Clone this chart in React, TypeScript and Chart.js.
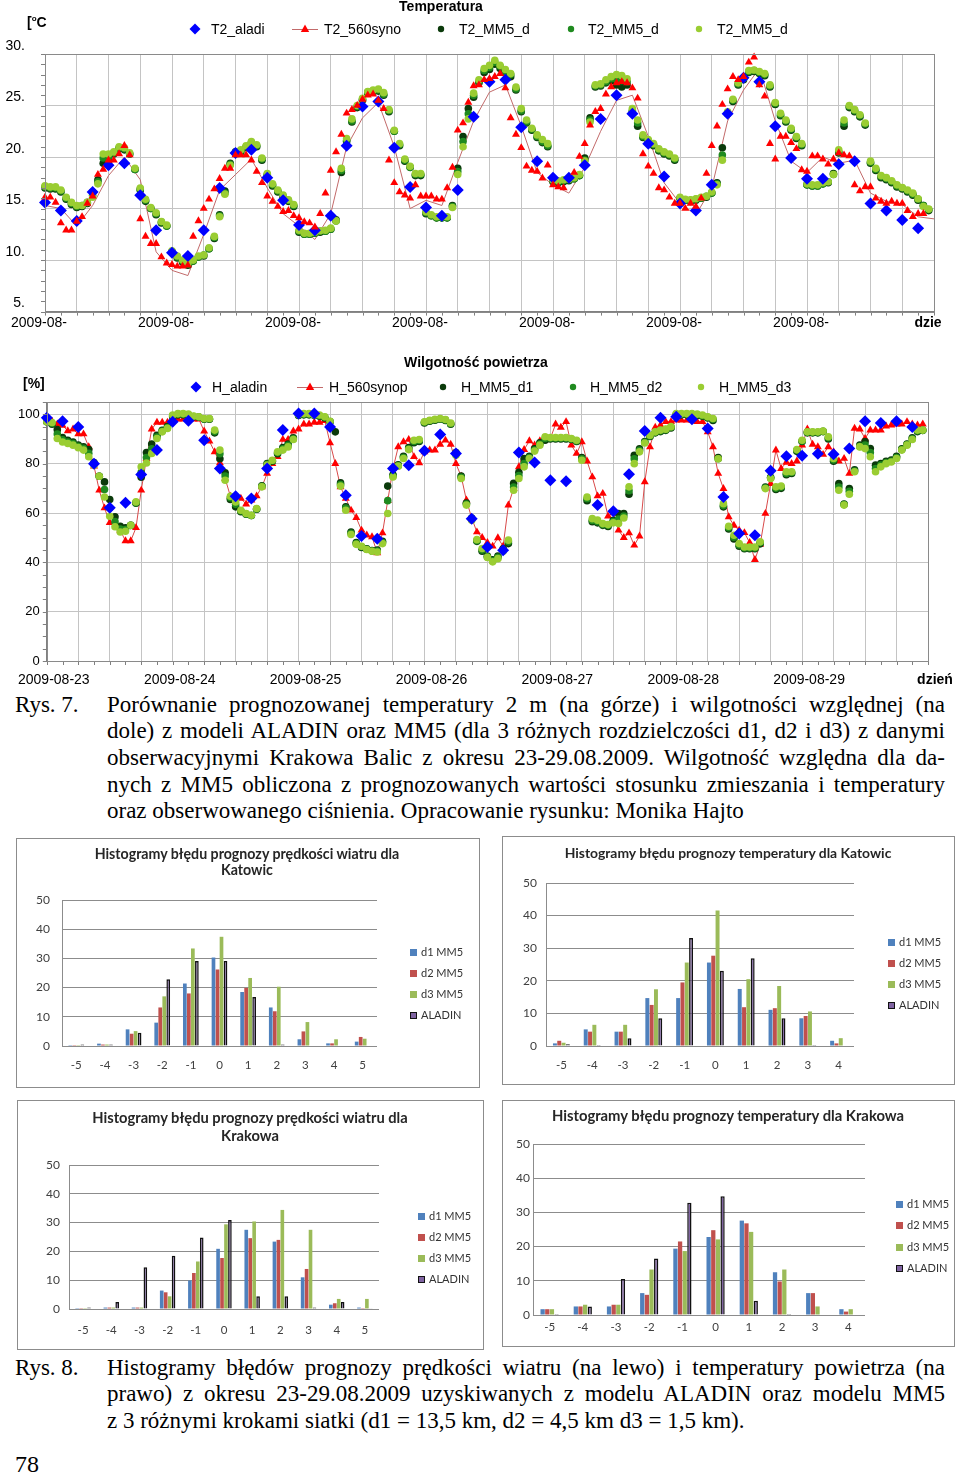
import React, { useEffect, useRef } from 'react';
import { Chart, registerables } from 'chart.js';
Chart.register(...registerables);

const SANS = '"Liberation Sans", Arial, sans-serif';
const SERIF = '"Liberation Serif", "Times New Roman", serif';
const CAL = 'Lato, "Open Sans", sans-serif';

// ---------------- Temperature (hourly index 0..167 from 2009-08-23 00h) ----------------
const T_OBS = [
  16.1, 16.1, 15.6, 13.6, 12.9, 12.9, 13.75, 14.2, 15.5, 16.2,
  18.3, 18.8, 19.7, 19.7, 20.3, 21.1, 20.2, null, 14.0, 12.3,
  11.6, 11.6, 10.3, 9.7, 9.55, 9.4, 9.4, 9.5, 12.3, 13.8,
  15.0, 15.9, 16.9, 17.9, 18.9, 18.9, 20.2, 20.2, 20.2, 19.7,
  18.6, 17.5, 16.2, 15.7, 15.2, 14.7, 14.8, 14.3, 14.1, 13.7,
  13.6, 13.2, 14.5, 16.5, 18.7, 20.5, 22.2, 24.25, 24.6, 25.0,
  25.6, 26.0, 26.1, 25.5, 24.7, 19.7, 17.5, 16.6, 16.3, 16.0,
  17.3, 16.2, 16.2, 16.2, 15.9, 15.9, 17.0, 19.0, 22.6, 23.3,
  25.3, 26.9, 27.0, 27.5, 27.6, 27.8, 28.1, 26.7, 23.8, 22.2,
  20.9, 19.1, 18.7, 18.6, 17.95, 19.2, 17.3, 17.1, 17.0, null,
  18.5, 20.05, 21.3, 23.1, 24.4, 24.7, 26.1, 26.8, 27.2, 27.3,
  27.2, 26.7, 25.7, 20.3, 19.1, 18.4, 17.0, 16.8, 16.1, 15.5,
  15.5, 15.0, 15.5, 15.2, 16.0, 18.4, 21.1, 23.0, 25.1, 26.6,
  27.8, 27.5, 27.8, 29.2, 29.7, 27.0, 25.9, 21.3, 19.8, 22.0,
  22.0, 21.4, 20.8, 18.75, 18.6, 20.1, 20.1, 19.8, 19.3, 19.8,
  20.4, 20.2, 20.1, 17.3, 16.7, 17.1, 17.1, 16.0, 15.7, 15.5,
  15.7, 15.5, 15.5, 14.8, 14.2, 14.5, 14.5, null,
];

// thin synop line, every 3 hours (0..168)
const T_SYNOP_LINE = [
  15.3, 15.0, 13.3, 15.3, 18.2, 20.0, 17.8, 10.8, 9.0, 8.5,
  12.5, 16.8, 18.3, 19.8, 17.0, 14.5, 13.3, 12.0, 14.5, 21.0,
  23.8, 25.3, 21.0, 15.0, 15.8, 15.3, 19.5, 23.5, 26.3, 27.0,
  23.0, 18.5, 17.3, 16.5, 19.0, 22.5, 25.5, 26.0, 22.0, 17.5,
  15.5, 14.4, 17.0, 23.5, 26.5, 28.6, 23.5, 19.6, 18.5, 20.0,
  19.4, 19.7, 16.5, 15.7, 15.4, 14.2, 14.0,
];

// ALADIN, every 3 hours
const T_ALADIN = [
  15.6, 14.8, 13.8, 16.6, 19.2, 19.4, 16.3, 12.9, 10.7, 10.4,
  12.9, 17.0, 20.4, 20.7, 18.0, 15.8, 13.4, 12.9, 14.3, 21.1,
  24.9, 25.4, 20.9, 17.1, 15.1, 14.3, 16.8, 23.9, 27.3, 27.5,
  22.9, 19.6, 18.0, 18.0, 19.2, 23.7, 26.0, 24.2, 21.3, 18.1,
  15.5, 14.8, 17.3, 24.2, 27.7, 27.3, 23.0, 19.9, 17.9, 17.9,
  19.3, 19.6, 15.5, 14.8, 13.9, 13.1,
];

const T_D1 = [
  17.0, 16.9, 16.9, 16.6, 15.9, 15.4, 15.1, 15.2, 15.5, 16.6,
  17.8, 19.4, 19.6, 20.3, 20.8, 20.7, 20.3, 18.8, 16.8, 15.7,
  15.0, 14.4, 13.6, 13.3, 10.8, 10.2, 9.8, 9.5, 9.9, 10.3,
  10.4, 11.1, 12.1, 14.4, 16.7, 19.4, 20.5, 20.5, 20.9, 21.3,
  21.0, 19.7, 18.2, 17.2, 16.6, 16.1, 15.7, 15.2, 12.7, 12.5,
  12.5, 12.6, 12.7, 12.8, 13.0, 13.9, 18.5, 21.5, 23.4, 24.8,
  25.5, 26.2, 26.3, 26.4, 26.0, 24.4, 22.5, 21.1, 19.6, 19.0,
  18.2, 18.2, 14.5, 14.3, 14.1, 14.1, 14.1, 15.3, 18.9, 22.0,
  24.7, 25.8, 27.2, 28.2, 28.5, 29.0, 28.6, 28.2, 27.8, 26.5,
  24.4, 23.3, 22.6, 21.9, 21.4, 21.0, 17.6, 17.5, 17.6, 17.7,
  17.9, 18.2, 19.9, 23.8, 26.8, 26.9, 27.2, 27.4, 27.0, 26.8,
  27.0, 24.4, 23.0, 21.9, 21.5, 21.1, 20.6, 20.3, 20.1, 19.7,
  16.0, 15.8, 15.7, 15.8, 16.0, 16.1, 16.5, 17.5, 20.9, 24.2,
  25.4, 27.0, 27.5, 28.2, 28.3, 28.1, 27.9, 26.8, 25.1, 24.0,
  23.4, 22.6, 21.8, 21.1, 17.3, 17.2, 17.2, 17.4, 17.5, 18.4,
  20.4, 23.0, 24.8, 24.4, 23.9, 23.1, 19.4, 18.7, 18.0, 17.8,
  17.5, 17.1, 16.9, 16.6, 16.3, 15.8, 15.3, 14.8,
];

const T_D2 = [
  17.1, 17.0, 17.0, 16.7, 16.0, 15.5, 15.2, 15.3, 15.6, 16.3,
  17.6, 19.9, 20.0, 20.4, 20.9, 20.8, 20.3, 18.8, 16.9, 15.8,
  15.0, 14.5, 13.7, 13.3, 10.8, 10.3, 9.9, 9.6, 9.9, 10.3,
  10.5, 11.1, 12.2, 14.3, 16.5, 19.3, 20.4, 20.6, 21.0, 21.4,
  21.1, 19.8, 18.3, 17.3, 16.7, 16.2, 15.8, 15.3, 12.8, 12.5,
  12.5, 12.6, 12.8, 12.8, 13.0, 13.8, 18.7, 21.6, 23.5, 24.9,
  25.6, 26.3, 26.4, 26.5, 26.1, 24.5, 22.5, 21.2, 19.7, 19.0,
  18.3, 18.3, 14.6, 14.3, 14.1, 14.1, 14.1, 15.2, 18.6, 21.5,
  24.2, 26.0, 27.3, 28.4, 28.7, 29.2, 28.8, 28.3, 28.0, 26.6,
  24.5, 23.4, 22.7, 22.0, 21.5, 21.1, 17.7, 17.6, 17.7, 17.8,
  17.9, 18.2, 19.7, 23.6, 26.9, 27.0, 27.3, 27.6, 27.5, 27.4,
  27.3, 24.5, 23.3, 22.0, 21.6, 21.2, 20.7, 20.4, 20.2, 19.8,
  16.0, 15.8, 15.8, 15.9, 16.0, 16.2, 16.5, 17.4, 20.2, 24.3,
  25.5, 27.1, 27.6, 28.3, 28.4, 28.2, 28.0, 26.9, 25.2, 24.1,
  23.5, 22.7, 21.9, 21.2, 17.3, 17.2, 17.2, 17.4, 17.6, 18.3,
  20.5, 23.3, 24.9, 24.5, 24.0, 23.2, 19.5, 18.8, 18.1, 17.9,
  17.6, 17.2, 17.0, 16.7, 16.4, 15.9, 15.3, 14.9,
];

const T_D3 = [
  17.2, 17.1, 17.1, 16.8, 16.1, 15.6, 15.3, 15.3, 15.6, 16.1,
  17.4, 20.3, 20.3, 20.5, 21.0, 20.9, 20.4, 18.9, 17.0, 15.9,
  15.1, 14.6, 13.75, 13.4, 10.9, 10.4, 10.0, 9.7, 10.0, 10.4,
  10.5, 11.2, 12.3, 14.2, 16.4, 19.2, 20.3, 20.7, 21.1, 21.5,
  21.2, 19.9, 18.4, 17.4, 16.8, 16.3, 15.85, 15.4, 12.9, 12.6,
  12.6, 12.7, 12.85, 12.9, 13.1, 13.8, 18.9, 21.8, 23.7, 25.0,
  25.7, 26.35, 26.5, 26.6, 26.25, 24.6, 22.6, 21.3, 19.8, 19.1,
  18.4, 18.4, 14.7, 14.4, 14.2, 14.2, 14.2, 15.1, 18.3, 21.0,
  23.7, 26.2, 27.5, 28.6, 28.9, 29.4, 28.9, 28.5, 28.1, 26.8,
  24.7, 23.6, 22.8, 22.15, 21.7, 21.3, 17.8, 17.7, 17.8, 17.85,
  18.0, 18.3, 19.6, 23.4, 27.0, 27.1, 27.5, 27.8, 28.0, 27.9,
  27.6, 24.7, 23.6, 22.15, 21.7, 21.3, 20.8, 20.5, 20.3, 19.9,
  16.1, 15.9, 15.85, 15.95, 16.1, 16.2, 16.6, 17.3, 19.7, 24.4,
  25.6, 27.2, 27.7, 28.4, 28.45, 28.3, 28.1, 27.0, 25.3, 24.25,
  23.6, 22.8, 22.0, 21.3, 17.4, 17.3, 17.3, 17.5, 17.6, 18.3,
  20.7, 23.6, 25.0, 24.6, 24.1, 23.3, 19.6, 18.9, 18.2, 18.0,
  17.7, 17.3, 17.05, 16.8, 16.5, 15.95, 15.2, 14.95,
];

// ---------------- Relative humidity ----------------
const H_OBS = [
  97.5, 97.2, 96.0, 95.5, 93.3, 94.0, 92.0, 92.0, 86.8, 79.0,
  69.2, 62.0, 56.1, 56.1, 53.0, 48.7, 48.7, 54.0, 69.2, 82.0,
  94.0, 96.7, 96.7, 96.7, 98.0, 98.0, 98.0, 98.0, 98.0, 98.0,
  93.2, 89.1, 84.8, 80.3, 74.0, 66.8, 66.1, 65.9, 63.6, 65.2,
  66.9, 70.6, 76.0, 80.0, 82.8, 89.8, 89.8, 93.2, 94.0, 96.0,
  96.0, 96.7, 96.7, 97.4, 88.4, 80.0, 70.6, 65.9, 61.1, 58.1,
  53.0, 51.0, 50.3, 43.8, 51.9, 65.0, 78.0, 86.8, 88.8, 89.8,
  82.8, 80.3, 84.8, 85.5, 85.5, 87.8, 89.5, 87.8, 80.0, 74.9,
  65.2, 58.0, 52.3, 50.0, 48.0, 46.5, 49.9, 46.5, 63.2, 70.0,
  78.7, 85.7, 89.2, 87.5, 89.2, 89.8, 90.2, 96.0, 94.7, 97.0,
  87.5, 84.1, 88.8, 81.0, 74.6, 66.9, 67.9, 58.7, 60.0, 53.0,
  50.0, 51.9, 46.9, 50.6, 72.6, 86.8, 94.7, 95.6, 97.0, 97.0,
  97.6, 97.6, 97.6, 97.6, 97.0, 97.0, 92.9, 86.8, 76.0, 69.9,
  58.4, 55.0, 53.0, 52.0, 48.0, 41.1, 47.2, 59.8, 71.9, 85.5,
  78.0, 80.5, 80.0, 81.0, 87.5, 94.0, 87.8, 86.8, 83.7, 86.8,
  84.8, 81.0, 82.1, 76.0, 94.3, 94.0, 90.2, 93.6, 93.6, 93.6,
  95.2, 95.6, 96.0, 96.0, 97.0, 96.0, 95.6, 96.0,
];

const H_ALADIN = [
  98.6, 97.2, 94.9, 80.0, 62.1, 64.2, 75.6, 85.5, 97.0, 97.4,
  89.5, 78.0, 66.8, 65.9, 78.0, 93.6, 100.3, 100.3, 94.9, 67.2,
  50.7, 49.6, 78.0, 79.4, 85.2, 91.8, 84.1, 57.7, 46.2, 44.9,
  84.5, 80.5, 73.3, 72.9, null, 63.2, 60.7, 75.7, 93.2, 98.6,
  99.0, 98.0, 94.3, 66.5, 51.7, 51.0, 77.1, 83.0, 83.2, 84.0,
  83.8, 86.1, 97.2, 96.5, 97.2, 94.9,
];

const H_D1 = [
  97.0, 96.0, 93.8, 90.6, 89.5, 88.8, 87.5, 86.8, 85.7, 80.5,
  74.9, 72.6, 65.5, 58.5, 54.6, 54.0, 55.0, 64.0, 74.5, 84.5,
  88.0, 91.5, 93.5, 95.0, 99.0, 99.8, 99.8, 99.6, 99.0, 98.8,
  98.0, 98.0, 92.5, 82.0, 76.3, 65.5, 62.5, 60.5, 59.5, 59.0,
  61.5, 71.0, 80.0, 81.0, 84.0, 86.5, 88.0, 90.5, 99.5, 99.8,
  99.8, 99.5, 99.2, 98.5, 97.0, 92.9, 72.2, 62.5, 52.3, 48.0,
  46.0, 45.5, 44.8, 45.0, 48.5, 70.9, 75.5, 79.5, 83.0, 86.5,
  88.5, 89.0, 96.5, 97.2, 97.6, 98.0, 97.5, 96.0, 84.5, 75.0,
  64.0, 58.0, 48.5, 44.5, 42.5, 41.0, 42.5, 45.5, 47.6, 72.0,
  76.5, 82.1, 83.0, 86.0, 88.5, 89.5, 90.0, 90.0, 90.0, 90.0,
  89.8, 89.0, 82.5, 65.0, 56.5, 56.0, 55.0, 54.5, 57.0, 59.8,
  59.8, 67.6, 83.4, 86.0, 89.0, 91.0, 92.5, 93.0, 93.5, 94.5,
  99.8, 99.8, 99.8, 99.6, 99.5, 99.2, 98.5, 97.5, 82.5, 62.5,
  53.5, 49.5, 46.5, 45.5, 45.5, 45.5, 47.5, 70.5, 74.5, 69.5,
  70.0, 75.5, 76.0, 85.0, 89.0, 92.5, 92.5, 92.5, 93.0, 90.0,
  81.0, 71.9, 63.6, 69.9, 77.5, 87.5, 89.0, 86.1, 79.4, 80.0,
  81.0, 81.5, 83.0, 86.0, 88.0, 90.5, 93.0, 93.5,
];

const H_D2 = [
  97.0, 96.3, 92.0, 89.7, 88.8, 88.2, 87.0, 86.2, 84.2, 80.0,
  74.9, 69.5, 62.0, 56.5, 53.5, 53.3, 55.0, 64.2, 76.5, 82.5,
  86.0, 90.8, 93.2, 94.6, 99.4, 100.0, 100.0, 99.8, 99.1, 98.9,
  98.1, 98.1, 93.0, 84.0, 75.0, 66.2, 63.5, 60.8, 59.6, 59.0,
  61.6, 70.8, 79.7, 81.2, 84.4, 86.0, 87.4, 90.1, 99.7, 100.0,
  100.0, 99.6, 99.4, 98.8, 97.1, null, 71.5, 62.0, 51.8, 47.6,
  46.3, 45.3, 44.6, 44.6, 48.0, 65.0, 75.0, 79.2, 82.5, 86.0,
  89.0, 89.4, 96.8, 97.4, 97.8, 98.1, 97.7, 96.2, 84.0, 74.5,
  63.6, 57.5, 48.8, 45.0, 42.2, 40.6, 42.0, 45.0, 48.3, 70.5,
  75.2, 80.0, 82.5, 85.5, 88.0, 90.2, 90.3, 90.3, 90.3, 90.3,
  90.0, 89.2, 82.0, 65.8, 57.0, 56.5, 55.3, 55.0, 56.5, 57.5,
  58.8, 69.0, 82.0, 85.4, 88.7, 91.2, 92.7, 93.3, 93.8, 94.8,
  100.0, 100.0, 100.0, 100.0, 99.8, 99.4, 98.8, 98.0, 82.0, 63.0,
  54.0, 50.2, 47.0, 45.8, 45.8, 45.8, 48.0, 70.2, 74.2, 70.0,
  70.5, 76.0, 76.4, 85.4, 89.2, 92.7, 92.7, 92.7, 93.1, 90.5,
  81.5, 70.5, 63.4, 68.8, 77.0, 87.0, 87.5, 84.5, 78.0, 79.4,
  80.5, 81.0, 82.5, 85.7, 87.8, 90.1, 93.3, 93.5,
];

const H_D3 = [
  97.0, 96.7, 90.2, 88.8, 88.2, 87.5, 86.5, 85.5, 82.8, 79.4,
  74.9, 66.5, 58.7, 54.4, 52.3, 52.6, 55.0, 64.5, 78.7, 80.3,
  84.1, 90.2, 92.9, 94.3, 99.7, 100.3, 100.3, 100.1, 99.3, 99.0,
  98.3, 98.3, 93.6, 85.5, 73.3, 66.8, 64.5, 61.1, 59.8, 59.1,
  61.8, 70.6, 79.4, 81.4, 84.8, 85.5, 86.8, 89.8, 99.9, 100.3,
  100.3, 99.7, 99.7, 99.0, 97.2, null, 70.9, 61.1, 51.3, 47.3,
  46.5, 45.2, 44.5, 44.2, 47.6, 59.8, 74.6, 79.0, 82.1, 85.7,
  89.5, 89.8, 97.0, 97.6, 98.0, 98.3, 97.9, 96.5, 83.4, 74.0,
  63.2, 57.1, 49.2, 45.6, 42.0, 40.2, 41.5, 44.5, 49.0, 69.2,
  74.0, 78.7, 82.1, 85.1, 87.5, 90.9, 90.6, 90.6, 90.6, 90.6,
  90.2, 89.5, 81.4, 66.5, 57.7, 57.1, 55.7, 55.3, 56.0, 55.7,
  58.0, 70.6, 80.0, 84.8, 88.4, 91.5, 92.9, 93.6, 94.0, 95.0,
  100.3, 100.3, 100.3, 100.3, 100.1, 99.7, 99.0, 98.3, 82.0, 63.8,
  54.6, 51.0, 47.6, 46.2, 46.2, 46.2, 48.3, 69.9, 74.0, 70.6,
  70.9, 76.7, 76.7, 85.7, 89.5, 92.9, 92.9, 92.9, 93.2, 90.9,
  82.1, 69.2, 63.2, 67.6, 76.7, 86.8, 86.1, 82.8, 76.7, 78.7,
  80.0, 80.7, 82.1, 85.5, 87.5, 89.8, 93.6, 93.6,
];

// ---------------- Histograms ----------------
const WIND_BINS = ['-5', '-4', '-3', '-2', '-1', '0', '1', '2', '3', '4', '5'];
const TEMP_BINS = ['-5', '-4', '-3', '-2', '-1', '0', '1', '2', '3', '4'];
const SERIES_NAMES = ['d1 MM5', 'd2 MM5', 'd3 MM5', 'ALADIN'];

const KAT_WIND_D1 = [0.3, 0.8, 5.7, 8.0, 21.4, 30.3, 18.5, 13.2, 2.3, 0.9, 1.5];
const KAT_WIND_D2 = [0.3, 0.5, 4.2, 13.2, 18.0, 26.2, 19.9, 11.9, 5.0, 0.9, 3.1];
const KAT_WIND_D3 = [0.3, 0.5, 5.1, 17.0, 33.4, 37.4, 23.3, 20.3, 8.2, 2.3, 2.5];
const KAT_WIND_AL = [0.5, 0.5, 4.5, 22.9, 29.1, 29.1, 16.8, 0.5, 0, 0, 0];

const KAT_TEMP_D1 = [0.8, 5.1, 4.4, 14.7, 14.7, 25.6, 17.5, 11.1, 8.5, 1.6];
const KAT_TEMP_D2 = [1.6, 4.4, 4.4, 12.6, 19.5, 27.7, 11.9, 11.6, 9.2, 0.8];
const KAT_TEMP_D3 = [1.0, 6.5, 6.5, 17.4, 25.6, 41.6, 20.5, 18.4, 10.6, 2.4];
const KAT_TEMP_AL = [0.5, 0.3, 2.4, 8.5, 33.1, 23.1, 26.9, 8.5, 0.3, 0];

const KRK_WIND_D1 = [0.3, 0.5, 0.5, 6.4, 9.9, 20.9, 27.5, 23.4, 11.0, 1.5, 0.5];
const KRK_WIND_D2 = [0.3, 0.5, 0.5, 5.8, 12.5, 17.7, 24.6, 24.0, 13.9, 2.0, 0.3];
const KRK_WIND_D3 = [0.3, 0.5, 0.5, 4.4, 16.5, 29.4, 30.4, 34.4, 27.5, 3.5, 3.5];
const KRK_WIND_AL = [0.5, 2.4, 14.5, 18.5, 24.8, 30.9, 4.4, 4.4, 0.5, 2.4, 0.3];

const KRK_TEMP_D1 = [1.7, 2.5, 2.5, 6.4, 19.4, 22.8, 27.6, 12.5, 6.4, 1.7];
const KRK_TEMP_D2 = [1.7, 2.5, 3.0, 5.9, 21.5, 24.8, 26.8, 9.8, 6.4, 1.0];
const KRK_TEMP_D3 = [1.7, 3.0, 3.0, 13.3, 18.7, 22.1, 24.3, 13.3, 2.5, 1.7];
const KRK_TEMP_AL = [0.3, 2.5, 10.5, 16.5, 32.8, 34.7, 4.2, 0.3, 0, 0];

// ---------------- colours ----------------
const C_BLUE = '#0000ff';
const C_RED = '#ff0000';
const C_D1 = '#0b3a0b';
const C_D2 = '#1f8a1f';
const C_D3 = '#9acd32';
const H_COLORS = ['#4f81bd', '#c0504d', '#9bbb59', '#8064a2'];

const hourly = (vals: (number | null)[]) => vals.map((v, i) => ({ x: i, y: v }));
const threeHourly = (vals: (number | null)[]) => vals.map((v, k) => ({ x: 3 * k, y: v }));

const frame = {
  id: 'frame',
  afterDraw(chart: any, _a: any, o: any) {
    if (!o || !o.enabled) return;
    const { ctx, chartArea: ca, scales } = chart;
    ctx.save();
    ctx.lineWidth = 1;
    ctx.strokeStyle = o.tickColor;
    const xs = scales.x;
    for (let v = xs.min; v <= xs.max + 1e-6; v += o.xStep) {
      const px = Math.round(xs.getPixelForValue(v)) + 0.5;
      ctx.beginPath();
      ctx.moveTo(px, ca.bottom);
      ctx.lineTo(px, ca.bottom + o.xLen);
      ctx.stroke();
    }
    const ys = scales.y;
    for (let v = ys.min; v <= ys.max + 1e-6; v += o.yStep) {
      const py = Math.round(ys.getPixelForValue(v)) + 0.5;
      ctx.beginPath();
      ctx.moveTo(ca.left - o.yLen, py);
      ctx.lineTo(ca.left, py);
      ctx.stroke();
    }
    ctx.strokeStyle = o.borderColor;
    ctx.strokeRect(Math.round(ca.left) + 0.5, Math.round(ca.top) + 0.5, Math.round(ca.width), Math.round(ca.height));
    ctx.restore();
  },
};

function ChartCanvas({ left, top, width, height, make }: any) {
  const ref = useRef<HTMLCanvasElement>(null);
  useEffect(() => {
    const chart = new Chart(ref.current as HTMLCanvasElement, make());
    return () => chart.destroy();
  }, []);
  return (
    <canvas
      ref={ref}
      width={width}
      height={height}
      style={{ position: 'absolute', left, top, width, height }}
    />
  );
}

function pts(data: any, color: string, style: string, radius: number, order: number, label: string) {
  return {
    label,
    data,
    pointStyle: style,
    pointRadius: radius,
    pointBackgroundColor: color,
    pointBorderColor: color,
    pointBorderWidth: 0,
    backgroundColor: color,
    borderColor: color,
    showLine: false,
    order,
    clip: false,
  };
}

function seriesConfig(p: any) {
  return {
    type: 'scatter',
    data: {
      datasets: [
        {
          label: p.lineLabel,
          data: p.line,
          showLine: true,
          borderColor: p.lineColor,
          borderWidth: 1,
          pointRadius: p.lineRadius,
          pointStyle: 'triangle',
          pointBackgroundColor: C_RED,
          pointBorderColor: C_RED,
          pointBorderWidth: 0,
          spanGaps: true,
          order: 6,
          clip: false,
        },
        pts(p.d1, C_D1, 'circle', 3.8, 5, p.names[2]),
        pts(p.d2, C_D2, 'circle', 3.8, 4, p.names[3]),
        pts(p.d3, C_D3, 'circle', 3.8, 3, p.names[4]),
        pts(p.aladin, C_BLUE, 'rectRot', 6, 2, p.names[0]),
        ...(p.obs ? [pts(p.obs, C_RED, 'triangle', 4.6, 1, p.names[1])] : []),
      ],
    },
    options: {
      responsive: false,
      animation: false,
      devicePixelRatio: 1,
      events: [],
      layout: { padding: { left: 0, right: p.padRight, top: p.padTop, bottom: 0 } },
      plugins: {
        legend: { display: false },
        tooltip: { enabled: false },
        frame: { enabled: true, xStep: 3, xLen: 4, yStep: p.yMinor, yLen: 4, tickColor: '#808080', borderColor: '#8a8a8a' },
      },
      scales: {
        x: {
          type: 'linear',
          min: 0,
          max: 168,
          afterFit: (s: any) => { s.height = p.xH; },
          ticks: {
            stepSize: 6,
            maxTicksLimit: 100,
            autoSkip: false,
            maxRotation: 0,
            minRotation: 0,
            padding: p.xPad,
            labelOffset: p.xLabelOffset,
            color: '#000',
            font: (c: any) => ({ family: SANS, size: 14, weight: c.tick && c.tick.value === 168 ? 'bold' : 'normal' }),
            callback: p.xLabel,
          },
          grid: { color: '#c4c4c4', drawTicks: false },
          border: { color: '#808080' },
        },
        y: {
          min: p.yMin,
          max: p.yMax,
          afterFit: (s: any) => { s.width = p.yW; },
          ticks: {
            stepSize: p.yStep,
            includeBounds: false,
            padding: p.yPad,
            labelOffset: p.yLabelOffset,
            color: '#000',
            font: { family: SANS, size: p.ySize },
            callback: p.yLabel,
          },
          grid: { color: '#c4c4c4', drawTicks: false },
          border: { color: '#808080' },
        },
      },
    },
    plugins: [frame],
  };
}

const tempConfig = () =>
  seriesConfig({
    names: ['T2_aladi', 'T2_560syno', 'T2_MM5_d', 'T2_MM5_d', 'T2_MM5_d'],
    lineLabel: 'T2_560syno (linia)',
    line: threeHourly(T_SYNOP_LINE),
    lineColor: '#c26a6a',
    lineRadius: 0,
    obs: hourly(T_OBS),
    aladin: threeHourly(T_ALADIN),
    d1: hourly(T_D1),
    d2: hourly(T_D2),
    d3: hourly(T_D3),
    padRight: 26,
    padTop: 54,
    xH: 28,
    xPad: 3,
    xLabelOffset: -6,
    xLabel: (v: number) => (v === 168 ? 'dzie' : v % 24 === 0 ? '2009-08-' : ''),
    yMin: 5,
    yMax: 30,
    yStep: 5,
    yMinor: 1,
    yW: 45,
    yPad: 20,
    yLabelOffset: -8,
    ySize: 14,
    yLabel: (v: number) => v + '.',
  });

const humConfig = () =>
  seriesConfig({
    names: ['H_aladin', 'H_560synop', 'H_MM5_d1', 'H_MM5_d2', 'H_MM5_d3'],
    lineLabel: 'H_560synop',
    line: hourly(H_OBS),
    lineColor: '#d84a4a',
    lineRadius: 4.6,
    obs: null,
    aladin: threeHourly(H_ALADIN),
    d1: hourly(H_D1),
    d2: hourly(H_D2),
    d3: hourly(H_D3),
    padRight: 32,
    padTop: 52,
    xH: 29,
    xPad: 11,
    xLabelOffset: 7,
    xLabel: (v: number) =>
      v === 168 ? 'dzień' : v % 24 === 0 ? '2009-08-' + String(23 + v / 24) : '',
    yMin: 0,
    yMax: 105,
    yStep: 20,
    yMinor: 5,
    yW: 35,
    yPad: 7,
    yLabelOffset: 0,
    ySize: 13,
    yLabel: (v: number) => String(v),
  });

// ---------------- small HTML helpers ----------------
function T({ x, y, children, size = 14, bold = false, center = false, family = SANS, color = '#000' }: any) {
  return (
    <div
      style={{
        position: 'absolute',
        left: x,
        top: y,
        transform: center ? 'translate(-50%, -50%)' : 'translateY(-50%)',
        fontFamily: family,
        fontSize: size,
        fontWeight: bold ? 'bold' : 'normal',
        color,
        whiteSpace: 'nowrap',
        lineHeight: 1.15,
      }}
    >
      {children}
    </div>
  );
}

function Marker({ x, y, kind, color }: any) {
  const s = 14;
  let shape: any = null;
  if (kind === 'diamond') shape = <polygon points="7,1.5 12.5,7 7,12.5 1.5,7" fill={color} />;
  if (kind === 'dot') shape = <circle cx={7} cy={7} r={3.2} fill={color} />;
  if (kind === 'tri') shape = <polygon points="7,2.5 11.2,10 2.8,10" fill={color} />;
  return (
    <svg width={s} height={s} style={{ position: 'absolute', left: x - 7, top: y - 7 }}>
      {shape}
    </svg>
  );
}

function LineTri({ x1, x2, y, color }: any) {
  const w = x2 - x1;
  return (
    <svg width={w} height={14} style={{ position: 'absolute', left: x1, top: y - 7 }}>
      <line x1={0} y1={7.5} x2={w} y2={7.5} stroke={color} strokeWidth={1} />
      <polygon points={`${w / 2},2.5 ${w / 2 + 4.2},10 ${w / 2 - 4.2},10`} fill={C_RED} />
    </svg>
  );
}

function SeriesLegend({ y, names, xs }: any) {
  return (
    <>
      <Marker x={xs[0]} y={y} kind="diamond" color={C_BLUE} />
      <T x={xs[0] + 16} y={y}>{names[0]}</T>
      <LineTri x1={xs[1] - 13} x2={xs[1] + 13} y={y} color="#c26a6a" />
      <T x={xs[1] + 19} y={y}>{names[1]}</T>
      <Marker x={xs[2]} y={y} kind="dot" color={C_D1} />
      <T x={xs[2] + 18} y={y}>{names[2]}</T>
      <Marker x={xs[3]} y={y} kind="dot" color={C_D2} />
      <T x={xs[3] + 17} y={y}>{names[3]}</T>
      <Marker x={xs[4]} y={y} kind="dot" color={C_D3} />
      <T x={xs[4] + 18} y={y}>{names[4]}</T>
    </>
  );
}

// ---------------- histogram ----------------
const HISTS = [
  {
    box: { x: 16, y: 838, w: 464, h: 250 },
    plot: { l: 62, r: 377, t: 900, b: 1046 },
    yPad: 12, xPad: 12,
    title: ['Histogramy błędu prognozy prędkości wiatru dla', 'Katowic'], tx: 247, ty: [854, 870], ts: 14.2,
    labels: WIND_BINS, data: [KAT_WIND_D1, KAT_WIND_D2, KAT_WIND_D3, KAT_WIND_AL],
    lx: 413, ly: [952, 973, 994, 1015],
  },
  {
    box: { x: 502, y: 836, w: 453, h: 249 },
    plot: { l: 546, r: 854, t: 883, b: 1046 },
    yPad: 9, xPad: 12,
    title: ['Histogramy błędu prognozy temperatury dla Katowic'], tx: 728, ty: [853], ts: 13.9,
    labels: TEMP_BINS, data: [KAT_TEMP_D1, KAT_TEMP_D2, KAT_TEMP_D3, KAT_TEMP_AL],
    lx: 891, ly: [942, 963, 984, 1005],
  },
  {
    box: { x: 17, y: 1100, w: 467, h: 250 },
    plot: { l: 69, r: 379, t: 1165, b: 1309 },
    yPad: 9, xPad: 14,
    title: ['Histogramy błędu prognozy prędkości wiatru dla', 'Krakowa'], tx: 250, ty: [1117, 1135], ts: 14.7,
    labels: WIND_BINS, data: [KRK_WIND_D1, KRK_WIND_D2, KRK_WIND_D3, KRK_WIND_AL],
    lx: 421, ly: [1216, 1237, 1258, 1279],
  },
  {
    box: { x: 502, y: 1100, w: 453, h: 247 },
    plot: { l: 533, r: 865, t: 1144, b: 1315 },
    yPad: 3, xPad: 5,
    title: ['Histogramy błędu prognozy temperatury dla Krakowa'], tx: 728, ty: [1116], ts: 14.8,
    labels: TEMP_BINS, data: [KRK_TEMP_D1, KRK_TEMP_D2, KRK_TEMP_D3, KRK_TEMP_AL],
    lx: 899, ly: [1204, 1225, 1247, 1268],
  },
];

function histConfig(h: any) {
  const { box, plot } = h;
  return () => ({
    type: 'bar',
    data: {
      labels: h.labels,
      datasets: h.data.map((d: number[], i: number) => ({
        label: SERIES_NAMES[i],
        data: d,
        backgroundColor: H_COLORS[i],
        borderColor: i === 3 ? '#111' : H_COLORS[i],
        borderWidth: i === 3 ? 1.5 : 0,
        categoryPercentage: 0.56,
        barPercentage: 0.92,
      })),
    },
    options: {
      responsive: false,
      animation: false,
      devicePixelRatio: 1,
      events: [],
      layout: {
        padding: { left: 0, top: plot.t - box.y, right: box.x + box.w - plot.r, bottom: 0 },
      },
      plugins: { legend: { display: false }, tooltip: { enabled: false } },
      scales: {
        x: {
          afterFit: (s: any) => { s.height = box.y + box.h - plot.b; },
          grid: { display: false, drawTicks: false },
          border: { display: false },
          ticks: { padding: h.xPad, color: '#404040', font: { family: CAL, size: 11.5 }, maxRotation: 0 },
        },
        y: {
          min: 0,
          max: 50,
          afterFit: (s: any) => { s.width = plot.l - box.x; },
          ticks: { stepSize: 10, padding: h.yPad, color: '#404040', font: { family: CAL, size: 12 } },
          grid: { color: '#8c8c8c', drawTicks: false },
          border: { color: '#8c8c8c' },
        },
      },
    },
  });
}

function Histogram({ h }: any) {
  const { box } = h;
  return (
    <>
      <ChartCanvas left={box.x} top={box.y} width={box.w} height={box.h} make={histConfig(h)} />
      <div
        style={{
          position: 'absolute',
          left: box.x,
          top: box.y,
          width: box.w,
          height: box.h,
          border: '1px solid #8c8c8c',
          boxSizing: 'border-box',
          pointerEvents: 'none',
        }}
      />
      {h.title.map((t: string, i: number) => (
        <T key={'t' + i} x={h.tx} y={h.ty[i]} size={h.ts} bold center family={CAL} color="#262626">
          {t}
        </T>
      ))}
      {SERIES_NAMES.map((n, i) => (
        <React.Fragment key={'l' + i}>
          <div
            style={{
              position: 'absolute',
              left: h.lx - 3.5,
              top: h.ly[i] - 3.5,
              width: 7,
              height: 7,
              background: H_COLORS[i],
              boxSizing: 'border-box',
              border: i === 3 ? '1.5px solid #111' : 'none',
            }}
          />
          <T x={h.lx + 8} y={h.ly[i]} size={11} family={CAL} color="#333">
            {n}
          </T>
        </React.Fragment>
      ))}
    </>
  );
}

// ---------------- captions ----------------
const CAPTION7 = [
  'Porównanie prognozowanej temperatury 2 m (na górze) i wilgotności względnej (na',
  'dole) z modeli ALADIN oraz MM5 (dla 3 różnych rozdzielczości d1, d2 i d3) z danymi',
  'obserwacyjnymi Krakowa Balic z okresu 23-29.08.2009. Wilgotność względna dla da-',
  'nych z MM5 obliczona z prognozowanych wartości stosunku zmieszania i temperatury',
  'oraz obserwowanego ciśnienia. Opracowanie rysunku: Monika Hajto',
];
const CAPTION8 = [
  'Histogramy błędów prognozy prędkości wiatru (na lewo) i temperatury powietrza (na',
  'prawo) z okresu 23-29.08.2009 uzyskiwanych z modelu ALADIN oraz modelu MM5',
  'z 3 różnymi krokami siatki (d1 = 13,5 km, d2 = 4,5 km d3 = 1,5 km).',
];

function Caption({ top, label, lines }: any) {
  const lh = 26.7;
  return (
    <>
      <div style={{ position: 'absolute', left: 15, top, fontFamily: SERIF, fontSize: 23, lineHeight: lh + 'px', whiteSpace: 'nowrap' }}>
        {label}
      </div>
      <div style={{ position: 'absolute', left: 107, top, width: 838, fontFamily: SERIF, fontSize: 23, lineHeight: lh + 'px' }}>
        {lines.map((l: string, i: number) => (
          <div
            key={i}
            style={{
              height: lh,
              whiteSpace: 'nowrap',
              textAlign: i < lines.length - 1 ? 'justify' : 'left',
              textAlignLast: i < lines.length - 1 ? 'justify' : 'left',
            } as any}
          >
            {l}
          </div>
        ))}
      </div>
    </>
  );
}

export default function App() {
  useEffect(() => {
    document.body.style.margin = '0';
  }, []);
  return (
    <div style={{ position: 'absolute', left: 0, top: 0, width: 960, height: 1480, overflow: 'hidden', background: '#fff' }}>
      {/* Temperature */}
      <ChartCanvas left={0} top={0} width={960} height={340} make={tempConfig} />
      <T x={441} y={6} bold center>Temperatura</T>
      <div style={{ position: 'absolute', left: 27, top: 14, fontFamily: SANS, fontSize: 14, fontWeight: 'bold', lineHeight: '16px' }}>
        [<span style={{ fontSize: 8, verticalAlign: 'top', lineHeight: '10px' }}>o</span>C
      </div>
      <SeriesLegend y={29} xs={[195, 305, 441, 571, 699]} names={['T2_aladi', 'T2_560syno', 'T2_MM5_d', 'T2_MM5_d', 'T2_MM5_d']} />

      {/* Humidity */}
      <ChartCanvas left={0} top={350} width={960} height={340} make={humConfig} />
      <T x={476} y={362} bold center>Wilgotność powietrza</T>
      <T x={23} y={383} bold>[%]</T>
      <SeriesLegend y={387} xs={[196, 310, 443, 573, 701]} names={['H_aladin', 'H_560synop', 'H_MM5_d1', 'H_MM5_d2', 'H_MM5_d3']} />

      <Caption top={691.5} label="Rys. 7." lines={CAPTION7} />

      {HISTS.map((h, i) => (
        <Histogram key={i} h={h} />
      ))}

      <Caption top={1354.6} label="Rys. 8." lines={CAPTION8} />
      <div style={{ position: 'absolute', left: 15, top: 1450, fontFamily: SERIF, fontSize: 24, lineHeight: '28px' }}>78</div>
    </div>
  );
}
